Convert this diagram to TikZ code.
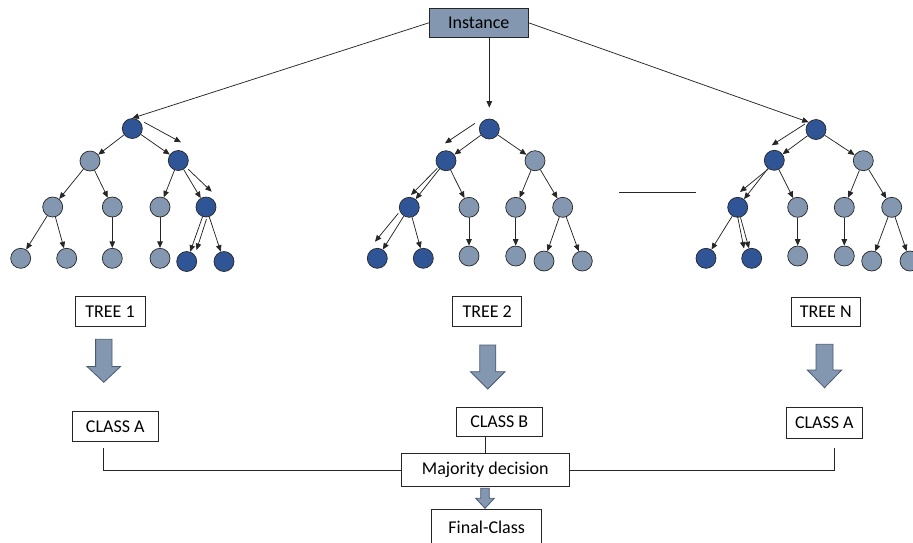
\documentclass[tikz,border=0pt]{standalone}
\usepackage{fontspec}
\setmainfont{Carlito}
\usetikzlibrary{arrows.meta,calc}
\definecolor{lightnode}{HTML}{8497B0}
\definecolor{darknode}{HTML}{2F5597}
\definecolor{edgecol}{HTML}{262626}
\definecolor{fatborder}{HTML}{4A5A72}
\newcommand\myfat[6]{%
  \draw[fat] ({#1-#2},#3) -- ({#1+#2},#3) -- ({#1+#2},#5) -- ({#1+#4},#5) -- (#1,#6) -- ({#1-#4},#5) -- ({#1-#2},#5) -- cycle;}
\begin{document}
\begin{tikzpicture}[x=1pt,y=-1pt,
  nl/.style={circle,draw=edgecol,line width=0.7pt,fill=lightnode,minimum size=20pt,inner sep=0pt},
  nd/.style={nl,fill=darknode},
  arr/.style={draw=edgecol,line width=0.75pt,-{Triangle[length=6.5pt,width=5.5pt]}},
  box/.style={draw=edgecol,line width=0.8pt,fill=white,inner sep=0pt,font=\fontsize{18}{20}\selectfont},
  fat/.style={draw=fatborder,line width=0.8pt,fill=lightnode,line join=miter},
  plain/.style={draw=edgecol,line width=0.75pt}]
\useasboundingbox (0,0) rectangle (913,542);
\clip (0,0) rectangle (913,542);

% ---------- Tree 1 ----------
\node[nd] (a0) at (132.3,128.5) {};
\node[nl] (a1) at (90,161) {};
\node[nd] (a2) at (178.3,160.5) {};
\node[nl] (a3) at (52.7,207) {};
\node[nl] (a4) at (112.3,207) {};
\node[nl] (a5) at (160,207) {};
\node[nd] (a6) at (206,207) {};
\node[nl] (a7) at (20.7,258.3) {};
\node[nl] (a8) at (66.7,258.3) {};
\node[nl] (a9) at (112.3,258.3) {};
\node[nl] (a10) at (160,258.3) {};
\node[nd] (a11) at (186.7,261.5) {};
\node[nd] (a12) at (224,261.5) {};

% ---------- Tree 2 ----------
\node[nd] (b0) at (489.3,129) {};
\node[nd] (b1) at (446,160.7) {};
\node[nl] (b2) at (535,160.7) {};
\node[nd] (b3) at (409.3,207.3) {};
\node[nl] (b4) at (469,207.3) {};
\node[nl] (b5) at (515.7,207.3) {};
\node[nl] (b6) at (562.7,207.3) {};
\node[nd] (b7) at (377.3,258.3) {};
\node[nd] (b8) at (423.3,258.3) {};
\node[nl] (b9) at (469,256) {};
\node[nl] (b10) at (515.7,256) {};
\node[nl] (b11) at (544,261) {};
\node[nl] (b12) at (582.3,261) {};

% ---------- Tree N ----------
\node[nd] (c0) at (816,129.5) {};
\node[nd] (c1) at (774.3,160.3) {};
\node[nl] (c2) at (863.3,160.7) {};
\node[nd] (c3) at (737.7,207.3) {};
\node[nl] (c4) at (797.7,207.3) {};
\node[nl] (c5) at (844.3,207.3) {};
\node[nl] (c6) at (891.7,207.3) {};
\node[nd] (c7) at (706,258.3) {};
\node[nd] (c8) at (751.7,258.3) {};
\node[nl] (c9) at (797.7,256) {};
\node[nl] (c10) at (844.3,256) {};
\node[nl] (c11) at (871.7,261) {};
\node[nl] (c12) at (910,261) {};

% tree edges
\foreach \t in {a,b,c}{
  \draw[arr] (\t0) -- (\t1);
  \draw[arr] (\t0) -- (\t2);
  \draw[arr] (\t1) -- (\t3);
  \draw[arr] (\t1) -- (\t4);
  \draw[arr] (\t2) -- (\t5);
  \draw[arr] (\t2) -- (\t6);
  \draw[arr] (\t3) -- (\t7);
  \draw[arr] (\t3) -- (\t8);
  \draw[arr] (\t4) -- (\t9);
  \draw[arr] (\t5) -- (\t10);
  \draw[arr] (\t6) -- (\t11);
  \draw[arr] (\t6) -- (\t12);
}

% decision path arrows
\coordinate (pa1) at (144.3,122.3); \coordinate (pa2) at (181,142.3);
\coordinate (pb1) at (188.3,169.3); \coordinate (pb2) at (211.7,191.7);
\coordinate (pc1) at (206.5,219);   \coordinate (pc2) at (196.5,250);
\draw[arr] (pa1) -- (pa2);
\draw[arr] (pb1) -- (pb2);
\draw[arr] (pc1) -- (pc2);

\coordinate (qa1) at (475,123.3);   \coordinate (qa2) at (445,143.3);
\coordinate (qb1) at (437.3,168.3); \coordinate (qb2) at (411,195);
\coordinate (qc1) at (398.3,213.3); \coordinate (qc2) at (375,241.7);
\draw[arr] (qa1) -- (qa2);
\draw[arr] (qb1) -- (qb2);
\draw[arr] (qc1) -- (qc2);

\coordinate (ra1) at (805,124);     \coordinate (ra2) at (771.7,145.3);
\coordinate (rb1) at (768.3,169);   \coordinate (rb2) at (740,192);
\coordinate (rc1) at (737.5,216);   \coordinate (rc2) at (744,248.5);
\draw[arr] (ra1) -- (ra2);
\draw[arr] (rb1) -- (rb2);
\draw[arr] (rc1) -- (rc2);

% separator line between tree 2 and tree N
\coordinate (s1) at (619,192); \coordinate (s2) at (696,192);
\draw[plain] (s1) -- (s2);

% ---------- Instance ----------
\node[box,fill=lightnode,minimum width=99pt,minimum height=29pt] (inst) at (478.8,22.8) {Instance};
\draw[arr] (inst.west) -- (a0.north);
\draw[arr] (inst.east) -- (c0.north west);
\draw[arr,shorten >=11pt] (inst.south -| b0) -- (b0.north);

% ---------- Tree labels ----------
\node[box,minimum width=70pt,minimum height=30pt] (t1) at (110,311.3) {TREE 1};
\node[box,minimum width=69pt,minimum height=30pt] (t2) at (487.2,311.8) {TREE 2};
\node[box,minimum width=68.3pt,minimum height=29pt] (tn) at (825.8,311.7) {TREE N};

% fat arrows
\myfat{103.8}{8.2}{339.3}{16.8}{366.5}{382.3}
\myfat{487.8}{8}{345}{17.3}{371.7}{389}
\myfat{824.5}{8.5}{344.3}{17.2}{370}{387.7}

% ---------- Classes ----------
\node[box,minimum width=86pt,minimum height=30pt] (ca) at (115.3,426.5) {CLASS A};
\node[box,minimum width=86.7pt,minimum height=29.4pt] (cb) at (499.3,422) {CLASS B};
\node[box,minimum width=76.7pt,minimum height=30.6pt] (cn) at (824.3,423) {CLASS A};

% ---------- Majority ----------
\node[box,minimum width=167.3pt,minimum height=33.4pt] (maj) at (485.3,470) {Majority decision};
\coordinate (mL) at (103.3,448.3);
\coordinate (mR) at (834,448.3);
\draw[plain] (mL) |- (maj.west);
\draw[plain] (mR) |- (maj.east);
\draw[plain] (maj.north) -- (maj.north |- cb.south);

\myfat{485}{4.3}{488.3}{9.3}{498.3}{508.3}

\node[box,minimum width=110pt,minimum height=36pt] (fin) at (486.7,527.3) {Final-Class};
\end{tikzpicture}
\end{document}
